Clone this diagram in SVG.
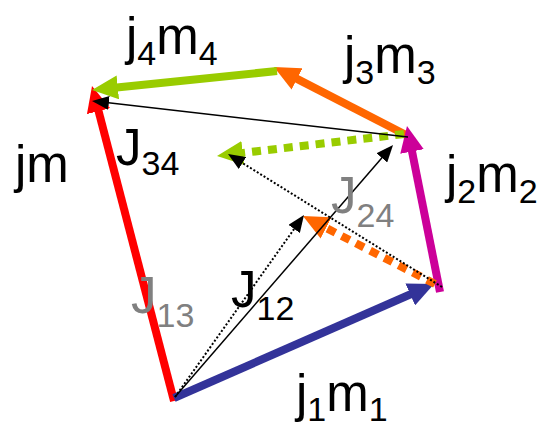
<svg xmlns="http://www.w3.org/2000/svg" width="540" height="426" viewBox="0 0 540 426">
<style>
.t{font-family:"Liberation Sans",Arial,sans-serif;font-size:51px;fill:#000}
.g{fill:#808080}
.s{font-size:34px}
.thick{fill:none;stroke-width:8;stroke-linecap:butt}
.thin{fill:none;stroke:#000;stroke-width:1.5}
.dot{fill:none;stroke:#000;stroke-width:2;stroke-dasharray:2 2}
.tdot{fill:none;stroke-width:8;stroke-dasharray:9 7}
</style>
<defs>
<marker id="hR" markerUnits="userSpaceOnUse" markerWidth="26" markerHeight="24" refX="11" refY="12" orient="auto"><path d="M0,0 L26,12 L0,24 z" fill="#FF0000"/></marker>
<marker id="hB" markerUnits="userSpaceOnUse" markerWidth="26" markerHeight="24" refX="11" refY="12" orient="auto"><path d="M0,0 L26,12 L0,24 z" fill="#333399"/></marker>
<marker id="hM" markerUnits="userSpaceOnUse" markerWidth="26" markerHeight="24" refX="11" refY="12" orient="auto"><path d="M0,0 L26,12 L0,24 z" fill="#CC0099"/></marker>
<marker id="hO" markerUnits="userSpaceOnUse" markerWidth="26" markerHeight="24" refX="11" refY="12" orient="auto"><path d="M0,0 L26,12 L0,24 z" fill="#FF6600"/></marker>
<marker id="hG" markerUnits="userSpaceOnUse" markerWidth="26" markerHeight="24" refX="11" refY="12" orient="auto"><path d="M0,0 L26,12 L0,24 z" fill="#99CC00"/></marker>
<marker id="hK" markerUnits="userSpaceOnUse" markerWidth="17" markerHeight="14" refX="7" refY="7" orient="auto"><path d="M0,0 L17,7 L0,14 z" fill="#000"/></marker>
</defs>
<g id="connectors">
<line id="red" class="thick" stroke="#FF0000" x1="174" y1="401" x2="95.8" y2="100.5" marker-end="url(#hR)"/>
<line id="blue" class="thick" stroke="#333399" x1="174" y1="398" x2="420.3" y2="290" marker-end="url(#hB)"/>
<line id="orange" class="thick" stroke="#FF6600" x1="410" y1="137" x2="287.3" y2="73.9" marker-end="url(#hO)"/>
<line id="green" class="thick" stroke="#99CC00" x1="277" y1="71" x2="106.9" y2="88.5" marker-end="url(#hG)"/>
<line id="magenta" class="thick" stroke="#CC0099" x1="440" y1="292" x2="409.9" y2="140.7" marker-end="url(#hM)"/>
<line id="greenDot" class="tdot" stroke="#99CC00" x1="404" y1="134" x2="231.9" y2="154.2" marker-end="url(#hG)"/>
<line id="orangeDot" class="tdot" stroke="#FF6600" x1="435" y1="284" x2="316.3" y2="222.9" marker-end="url(#hO)"/>
<line id="J" class="thin" x1="408" y1="137" x2="101.9" y2="102.1" marker-end="url(#hK)"/>
<line id="J12" class="thin" x1="175" y1="397" x2="386.5" y2="152.6" marker-end="url(#hK)"/>
<line id="J34" class="dot" x1="442" y1="287" x2="236.5" y2="159.3" marker-end="url(#hK)"/>
<line id="J13" class="dot" x1="175" y1="397" x2="298.2" y2="223.2" marker-end="url(#hK)"/>
</g>
<g id="label-jm"><text class="t" x="15" y="182">jm</text></g>
<g id="label-j4m4"><text class="t" x="126" y="54">j<tspan class="s" dy="11">4</tspan><tspan dy="-11">m</tspan><tspan class="s" dy="11">4</tspan></text></g>
<g id="label-j3m3"><text class="t" x="344" y="73">j<tspan class="s" dy="11">3</tspan><tspan dy="-11">m</tspan><tspan class="s" dy="11">3</tspan></text></g>
<g id="label-j2m2"><text class="t" x="446" y="192">j<tspan class="s" dy="11">2</tspan><tspan dy="-11">m</tspan><tspan class="s" dy="11">2</tspan></text></g>
<g id="label-j1m1"><text class="t" x="296" y="411">j<tspan class="s" dy="10">1</tspan><tspan dy="-10">m</tspan><tspan class="s" dy="10">1</tspan></text></g>
<g id="label-J34"><text class="t" x="116" y="165">J<tspan class="s" dy="10">34</tspan></text></g>
<g id="label-J13"><text class="t g" x="131" y="313">J<tspan class="s" dy="14">13</tspan></text></g>
<g id="label-J12"><text class="t" x="231" y="307">J<tspan class="s" dy="13">12</tspan></text></g>
<g id="label-J24"><text class="t g" x="331" y="213">J<tspan class="s" dy="14">24</tspan></text></g>
</svg>
